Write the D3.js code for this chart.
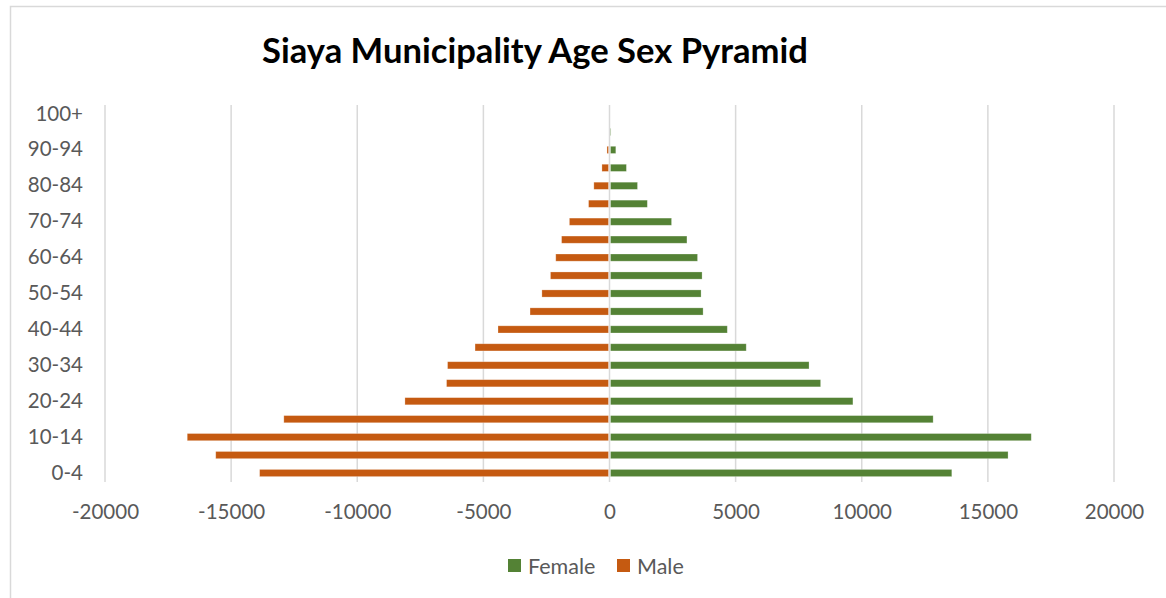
<!DOCTYPE html>
<html><head><meta charset="utf-8">
<script src="https://cdn.jsdelivr.net/npm/d3@7/dist/d3.min.js"></script>
<style>body{margin:0;background:#fff;}svg{display:block;font-family:Lato,"Open Sans",sans-serif;}</style>
</head><body>
<svg id="c" width="1166" height="598"></svg>
<script>
const categories = ["0-4","5-9","10-14","15-19","20-24","25-29","30-34","35-39","40-44","45-49","50-54","55-59","60-64","65-69","70-74","75-79","80-84","85-89","90-94","95-99","100+"];
const male = [-13870,-15610,-16740,-12910,-8110,-6460,-6420,-5330,-4420,-3150,-2680,-2340,-2130,-1900,-1590,-830,-620,-300,-100,-20,-10];
const female = [13570,15800,16720,12830,9650,8370,7910,5420,4670,3710,3630,3670,3490,3070,2460,1500,1110,670,250,60,20];
const xTicks = [-20000,-15000,-10000,-5000,0,5000,10000,15000,20000];
const yTickLabels = ["0-4","10-14","20-24","30-34","40-44","50-54","60-64","70-74","80-84","90-94","100+"];
const seriesNames = ["Female","Male"];
const colors = {Female:"#548235", Male:"#C55A11"};

const svg = d3.select("#c");
svg.append("rect").attr("x",10.5).attr("y",6.5).attr("width",1170).attr("height",600)
  .attr("fill","#fff").attr("stroke","#d9d9d9").attr("stroke-width",1.5);

const x = d3.scaleLinear().domain([-20000,20000]).range([105,1114]);
const y = d3.scaleBand().domain(categories).range([482,105]).paddingInner(0.6).paddingOuter(0.3);

// gridlines
svg.append("g").selectAll("line").data(xTicks).join("line")
  .attr("x1",d=>x(d)).attr("x2",d=>x(d)).attr("y1",105).attr("y2",482)
  .attr("stroke","#d9d9d9").attr("stroke-width",1.5);

// bars
const g = svg.append("g");
g.selectAll("rect.f").data(categories).join("rect").attr("class","f")
  .attr("x",(d,i)=>x(0)+1).attr("width",(d,i)=>Math.max(0,x(female[i])-x(0)-1))
  .attr("y",d=>y(d)).attr("height",y.bandwidth()).attr("fill",colors.Female)
  .attr("stroke","#fff").attr("stroke-opacity",0.35).attr("stroke-width",0.75);
g.selectAll("rect.m").data(categories).join("rect").attr("class","m")
  .attr("x",(d,i)=>x(male[i])).attr("width",(d,i)=>Math.max(0,x(0)-x(male[i])-1))
  .attr("y",d=>y(d)).attr("height",y.bandwidth()).attr("fill",colors.Male)
  .attr("stroke","#fff").attr("stroke-opacity",0.35).attr("stroke-width",0.75);

// x axis labels
const xAxis = d3.axisBottom(x).tickValues(xTicks).tickFormat(d=>String(d)).tickSize(0).tickPadding(0);
const xg = svg.append("g").attr("transform","translate(0,504)").call(xAxis);
xg.select(".domain").remove();
xg.selectAll("text").attr("fill","#595959").attr("font-size",20.5).attr("font-family","Lato,sans-serif");

// y axis labels
const yAxis = d3.axisLeft(y).tickValues(yTickLabels).tickSize(0).tickPadding(0);
const yg = svg.append("g").attr("transform","translate(83,0)").call(yAxis);
yg.select(".domain").remove();
yg.selectAll("text").attr("fill","#595959").attr("font-size",20.5).attr("font-family","Lato,sans-serif");

// title
const title = svg.append("text").attr("x",535).attr("y",63).attr("text-anchor","middle")
  .attr("font-size",30).attr("font-weight","bold").attr("fill","#000")
  .text("Siaya Municipality Age Sex Pyramid");
const tw = title.node().getComputedTextLength();
title.attr("font-size",30*546/tw);

// legend
const legendX = [508, 617];
const lg = svg.append("g");
seriesNames.forEach((s,i)=>{
  lg.append("rect").attr("x",legendX[i]).attr("y",559).attr("width",13).attr("height",13).attr("fill",colors[s]);
  lg.append("text").attr("x",legendX[i]+20).attr("y",566).attr("dy","0.35em")
    .attr("font-size",21.5).attr("fill","#595959").text(s);
});
</script>
</body></html>
